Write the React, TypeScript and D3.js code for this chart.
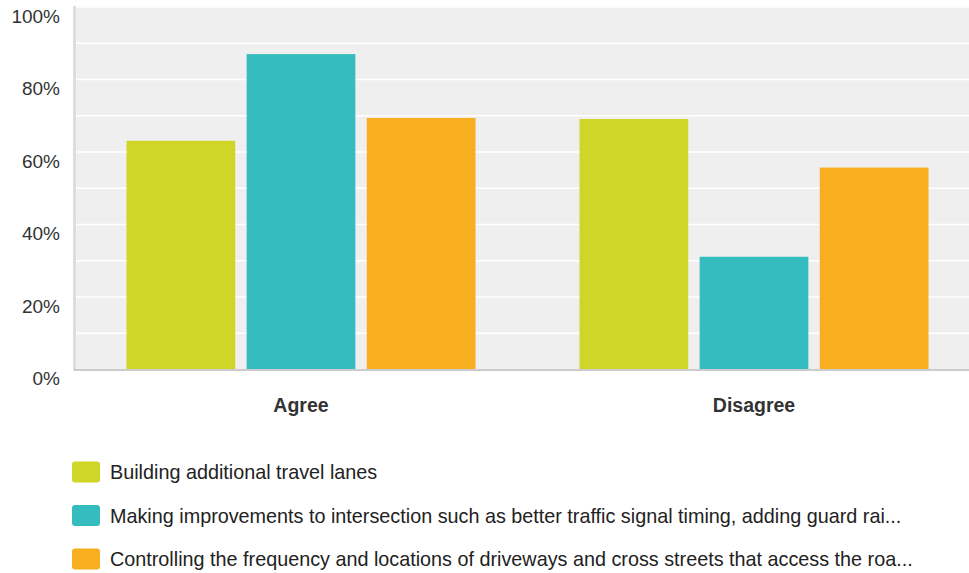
import React from "react";
import * as d3 from "d3";

const categories = ["Agree", "Disagree"];
const seriesNames = [
  "Building additional travel lanes",
  "Making improvements to intersection such as better traffic signal timing, adding guard rai...",
  "Controlling the frequency and locations of driveways and cross streets that access the roa...",
];
const seriesColors = ["#cfd628", "#34bcbf", "#f7af1f"];
const buildingLanes = [63.1, 69.1];
const intersectionImprovements = [87.0, 31.1];
const drivewayControl = [69.4, 55.7];
const yTicks = [0, 20, 40, 60, 80, 100];
const yGrid = [10, 20, 30, 40, 50, 60, 70, 80, 90, 100];

export default function App() {
  const W = 969;
  const H = 573;
  const left = 74.5;
  const top = 7;
  const bottom = 369.5;
  const plotRight = 980.5;

  const series = [buildingLanes, intersectionImprovements, drivewayControl];

  const x0 = d3
    .scaleBand<string>()
    .domain(categories)
    .range([left, plotRight])
    .paddingInner(0)
    .paddingOuter(0);
  const groupPad = 52;
  const x1 = d3
    .scaleBand<number>()
    .domain(series.map((_, i) => i))
    .range([groupPad, x0.bandwidth() - groupPad])
    .paddingInner(0.095)
    .paddingOuter(0);
  const y = d3.scaleLinear().domain([0, 100]).range([bottom, top]);

  return (
    <svg
      width={W}
      height={H}
      style={{ position: "absolute", left: 0, top: 0, fontFamily: "'Liberation Sans', Arial, sans-serif" }}
    >
      <rect x={left} y={top - 1} width={W - left} height={bottom - top + 1} fill="#efefef" />
      {yGrid.map((t) => (
        <line key={t} x1={left} x2={W} y1={y(t)} y2={y(t)} stroke="#ffffff" strokeWidth={1.5} />
      ))}
      <line x1={left} x2={left} y1={top - 1} y2={bottom} stroke="#dddddd" strokeWidth={3} />
      {categories.map((c, ci) =>
        series.map((vals, si) => (
          <rect
            key={`${c}-${si}`}
            x={(x0(c) as number) + (x1(si) as number)}
            y={y(vals[ci])}
            width={x1.bandwidth()}
            height={bottom - y(vals[ci])}
            fill={seriesColors[si]}
          />
        ))
      )}
      <line x1={left - 1} x2={W} y1={bottom + 0.5} y2={bottom + 0.5} stroke="#cccccc" strokeWidth={2} />
      {yTicks.map((t) => (
        <text
          key={t}
          x={60}
          y={y(t) + 9}
          textAnchor="end"
          dominantBaseline="central"
          fontSize={19}
          fill="#333333"
        >
          {t}%
        </text>
      ))}
      {categories.map((c) => (
        <text
          key={c}
          x={(x0(c) as number) + x0.bandwidth() / 2}
          y={405}
          textAnchor="middle"
          dominantBaseline="central"
          fontSize={19.5}
          fontWeight="bold"
          fill="#333333"
        >
          {c}
        </text>
      ))}
      {seriesNames.map((name, i) => {
        const cy = 472 + i * 43.5;
        return (
          <g key={name}>
            <rect x={72} y={cy - 10.5} width={28} height={21} rx={3} fill={seriesColors[i]} />
            <text x={110} y={cy} dominantBaseline="central" fontSize={19.8} fill="#222222">
              {name}
            </text>
          </g>
        );
      })}
    </svg>
  );
}
